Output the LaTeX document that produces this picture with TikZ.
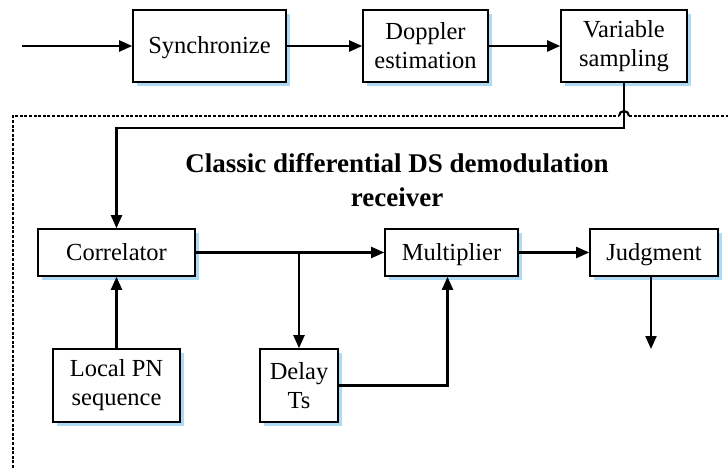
\documentclass[tikz,border=0pt]{standalone}
\usepackage{fontspec}
\setmainfont{Liberation Serif}
\usetikzlibrary{arrows.meta,shadows}
\definecolor{shadowblue}{RGB}{120,195,235}
\begin{document}
\begin{tikzpicture}[x=1pt,y=-1pt,
  blk/.style={draw=black,line width=1.6pt,fill=white,inner sep=0pt,align=center,
    font=\fontsize{24.5}{29}\selectfont,
    drop shadow={shadow xshift=4pt,shadow yshift=-4pt,fill=shadowblue,opacity=0.6}},
  one/.style={text height=16pt,text depth=1pt},
  wire/.style={line width=2.1pt},
  arr/.style={wire,-{Triangle[length=13pt,width=11pt]}},
  frame/.style={line width=2.6pt,dash pattern=on 3pt off 1.6pt}]
\useasboundingbox (0,0) rectangle (728,468);
% top row
\node[blk,one,minimum width=153pt,minimum height=72pt] (sync) at (209.5,46) {Synchronize};
\node[blk,minimum width=125pt,minimum height=72pt] (dop) at (425.5,46) {Doppler\\estimation};
\node[blk,minimum width=126pt,minimum height=72pt] (var) at (624,46) {Variable\\sampling};
% second row
\node[blk,one,minimum width=157pt,minimum height=47pt] (corr) at (116.5,252.5) {Correlator};
\node[blk,one,minimum width=133pt,minimum height=47pt] (mult) at (451.5,252.5) {Multiplier};
\node[blk,one,minimum width=128pt,minimum height=47pt] (judg) at (654,252.5) {Judgment};
\node[blk,minimum width=127pt,minimum height=73pt] (pn) at (116.5,385.5) {Local PN\\sequence};
\node[blk,minimum width=78pt,minimum height=73pt] (dl) at (299,385.5) {Delay\\Ts};
% title
\node[align=center,font=\bfseries\fontsize{27}{34}\selectfont] (title) at (397,180)
  {Classic differential DS demodulation\\receiver};
% dotted frame with line jump
\coordinate (fl) at (13,468);
\coordinate (ftl) at (13,116);
\coordinate (hopl) at (619,116);
\coordinate (hopr) at (629,116);
\coordinate (fr) at (728,116);
\draw[frame] (fl) -- (ftl) -- (hopl);
\draw[line width=2.1pt] (hopl) arc[start angle=180,end angle=0,radius=5pt];
\draw[frame] (hopr) -- (fr);
% connectors
\coordinate (in) at (22,46);
\coordinate (out) at (651,349);
\draw[arr] (in) -- (sync);
\draw[arr] (sync) -- (dop);
\draw[arr] (dop) -- (var);
\draw[arr] (var.south) -- ++(0,45) -| (corr.north);
\draw[arr] (pn) -- (corr);
\draw[arr] (corr) -- (mult);
\draw[arr] (dl.north |- corr.east) -- (dl.north);
\draw[arr] (dl.east) -| ([xshift=-4pt]mult.south);
\draw[arr] (mult) -- (judg);
\draw[arr] ([xshift=-3pt]judg.south) -- (out);
\end{tikzpicture}
\end{document}
